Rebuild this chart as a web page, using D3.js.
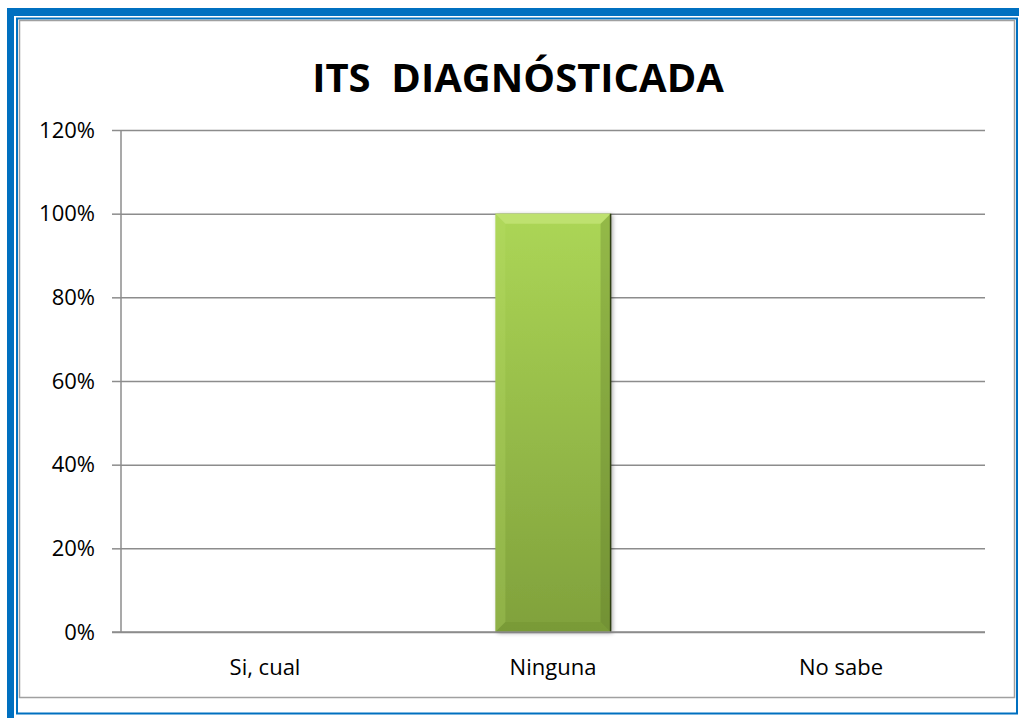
<!DOCTYPE html>
<html>
<head>
<meta charset="utf-8">
<script src="https://cdn.jsdelivr.net/npm/d3@7"></script>
<style>
  html, body { margin: 0; padding: 0; background: #fff; }
  svg { display: block; }
  text { font-family: 'Open Sans', 'Lato', sans-serif; fill: #000; }
</style>
</head>
<body>
<div id="chart"></div>
<script>
var chartTitle = 'ITS  DIAGNÓSTICADA'
var categories = ['Si, cual', 'Ninguna', 'No sabe']
var values = [0, 1, 0]
var yTicks = [0, 0.2, 0.4, 0.6, 0.8, 1.0, 1.2]

var W = 1019, H = 718

var svg = d3.select('#chart').append('svg')
  .attr('width', W)
  .attr('height', H)

// frame
svg.append('rect').attr('x', 0).attr('y', 0).attr('width', W).attr('height', H).attr('fill', '#fff')
svg.append('rect').attr('x', 7).attr('y', 8).attr('width', W - 7).attr('height', 8).attr('fill', '#0070c0')
svg.append('rect').attr('x', 7).attr('y', 8).attr('width', 7).attr('height', H - 8).attr('fill', '#0070c0')
svg.append('rect').attr('x', 17).attr('y', 18.5).attr('width', 1000).attr('height', 695)
  .attr('fill', 'none').attr('stroke', '#0070c0').attr('stroke-width', 2)
svg.append('rect').attr('x', 19.5).attr('y', 20.5).attr('width', 995).attr('height', 677)
  .attr('fill', 'none').attr('stroke', '#a0a0a0').attr('stroke-width', 1.5)

var margin = { top: 130, left: 121, right: 34, bottom: 86 }
var width = W - margin.left - margin.right
var height = H - margin.top - margin.bottom

var x = d3.scaleBand().domain(categories).range([0, width]).paddingInner(0.6).paddingOuter(0.3)
var xb = d3.scaleBand().domain(categories).range([0, width])
var y = d3.scaleLinear().domain([0, 1.2]).range([height, 0])

var defs = svg.append('defs')
var grad = defs.append('linearGradient').attr('id', 'barGrad')
  .attr('x1', 0).attr('y1', 0).attr('x2', 0).attr('y2', 1)
grad.append('stop').attr('offset', '0%').attr('stop-color', '#acd656')
grad.append('stop').attr('offset', '100%').attr('stop-color', '#80a13c')
var shadow = defs.append('filter').attr('id', 'shadow').attr('x', '-10%').attr('y', '-5%').attr('width', '130%').attr('height', '115%')
shadow.append('feDropShadow').attr('dx', 2).attr('dy', 1).attr('stdDeviation', 2)
  .attr('flood-color', '#000').attr('flood-opacity', 0.35)

var g = svg.append('g').attr('transform', 'translate(' + margin.left + ',' + margin.top + ')')

// gridlines
g.append('g').attr('class', 'grid')
  .call(d3.axisLeft(y).tickValues(yTicks).tickSize(-width).tickFormat(''))
  .call(function (s) {
    s.select('.domain').remove()
    s.selectAll('line').attr('stroke', '#8c8c8c').attr('stroke-width', 1.5)
  })

// y axis
g.append('g')
  .call(d3.axisLeft(y).tickValues(yTicks).tickSize(9).tickPadding(17)
    .tickFormat(function (d) { return Math.round(d * 100) + '%' }))
  .call(function (s) {
    s.select('.domain').attr('stroke', '#8c8c8c').attr('stroke-width', 1.5).attr('d', 'M0,0V' + height)
    s.selectAll('line').attr('stroke', '#8c8c8c').attr('stroke-width', 1.5)
    s.selectAll('text').style('font-size', '22px').style('font-family', "'Open Sans', sans-serif").attr('fill', '#000')
  })

// bars
var bars = g.selectAll('.bar').data(values).enter().append('g').attr('class', 'bar')
  .filter(function (d) { return d > 0 })

bars.append('rect')
  .attr('x', function (d, i) { return x(categories[values.indexOf(d)]) })
  .attr('y', function (d) { return y(d) })
  .attr('width', x.bandwidth())
  .attr('height', function (d) { return height - y(d) })
  .attr('fill', 'url(#barGrad)')
  .attr('filter', 'url(#shadow)')

// bevel highlights
bars.each(function (d) {
  var bx = x(categories[values.indexOf(d)])
  var by = y(d)
  var bw = x.bandwidth()
  var bh = height - y(d)
  var b = 10
  var sel = d3.select(this)
  sel.append('path')
    .attr('d', 'M' + bx + ',' + by + 'L' + (bx + bw) + ',' + by + 'L' + (bx + bw - b) + ',' + (by + b) + 'L' + (bx + b) + ',' + (by + b) + 'Z')
    .attr('fill', '#c6e67a').attr('opacity', 0.7)
  sel.append('path')
    .attr('d', 'M' + bx + ',' + by + 'L' + (bx + b) + ',' + (by + b) + 'L' + (bx + b) + ',' + (by + bh - b) + 'L' + bx + ',' + (by + bh) + 'Z')
    .attr('fill', '#bde06a').attr('opacity', 0.25)
  sel.append('path')
    .attr('d', 'M' + (bx + bw) + ',' + by + 'L' + (bx + bw - b) + ',' + (by + b) + 'L' + (bx + bw - b) + ',' + (by + bh - b) + 'L' + (bx + bw) + ',' + (by + bh) + 'Z')
    .attr('fill', '#4c6420').attr('opacity', 0.25)
  sel.append('path')
    .attr('d', 'M' + bx + ',' + (by + bh) + 'L' + (bx + b) + ',' + (by + bh - b) + 'L' + (bx + bw - b) + ',' + (by + bh - b) + 'L' + (bx + bw) + ',' + (by + bh) + 'Z')
    .attr('fill', '#6a8a2c').attr('opacity', 0.3)
  sel.append('line')
    .attr('x1', bx + bw).attr('x2', bx + bw).attr('y1', by).attr('y2', by + bh)
    .attr('stroke', '#2f3f12').attr('stroke-width', 1.5)
})

// baseline
g.append('line').attr('x1', -9).attr('x2', width).attr('y1', height).attr('y2', height)
  .attr('stroke', '#8c8c8c').attr('stroke-width', 1.5)

// x labels
g.selectAll('.xlabel').data(categories).enter().append('text')
  .attr('x', function (d) { return xb(d) + xb.bandwidth() / 2 })
  .attr('y', height + 43)
  .attr('text-anchor', 'middle')
  .style('font-size', '22px')
  .text(function (d) { return d })

// title
svg.append('text')
  .attr('x', 518)
  .attr('y', 92)
  .attr('text-anchor', 'middle')
  .style('font-size', '40px')
  .style('font-weight', 'bold')
  .style('white-space', 'pre')
  .text(chartTitle)
</script>
</body>
</html>
